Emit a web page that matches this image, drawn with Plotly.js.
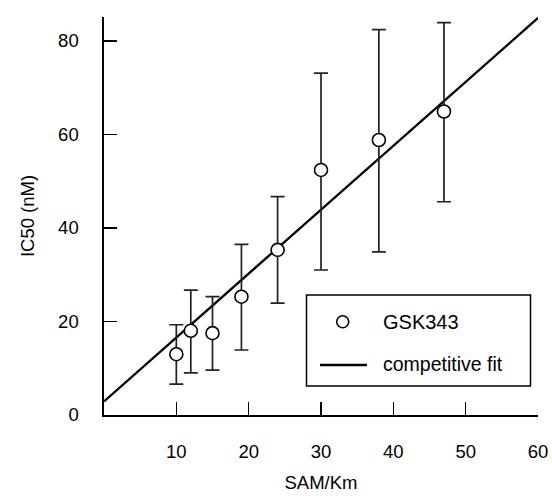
<!DOCTYPE html>
<html>
<head>
<meta charset="utf-8">
<script src="https://cdn.plot.ly/plotly-3.0.1.min.js"></script>
<style>html,body{margin:0;padding:0;background:#fff;}#chart{width:552px;height:496px;}</style>
</head>
<body>
<div id="chart"></div>
<script>
// Data
var samKm   = [10, 12, 15, 19, 24, 30, 38, 47];
var ic50    = [13.0, 18.0, 17.5, 25.3, 35.3, 52.4, 58.8, 64.9];
var ic50Hi  = [19.3, 26.7, 25.3, 36.5, 46.7, 73.1, 82.4, 83.9];
var ic50Lo  = [6.6, 9.0, 9.6, 13.9, 23.9, 31.0, 34.9, 45.6];
var fitX    = [0, 60];
var fitY    = [2.9, 84.9];
var xTickVals = [0, 10, 20, 30, 40, 50, 60];
var xTickText = ['', '10', '20', '30', '40', '50', '60'];
var yTickVals = [0, 20, 40, 60, 80];
var legendLabels = ['GSK343', 'competitive fit'];

var errPlus = ic50.map(function(v, i){ return ic50Hi[i] - v; });
var errMinus = ic50.map(function(v, i){ return v - ic50Lo[i]; });

var FONT = 'Liberation Sans, Arial, sans-serif';

// plot area in pixels: x 104..538, y 17..415
var L = 104, R = 538, T = 17, B = 415;
function px(x){ return (x - L) / (R - L); }
function py(y){ return (B - y) / (B - T); }

var traces = [
  {
    x: fitX, y: fitY, type: 'scatter', mode: 'lines',
    line: {color: '#000', width: 2.3},
    name: legendLabels[1], showlegend: false, hoverinfo: 'skip'
  },
  {
    x: samKm, y: ic50, type: 'scatter', mode: 'markers',
    marker: {symbol: 'circle', size: 13, color: '#fff', line: {color: '#000', width: 1.6}},
    error_y: {type: 'data', symmetric: false, array: errPlus, arrayminus: errMinus,
              color: '#222', thickness: 1.7, width: 7},
    name: legendLabels[0], showlegend: false
  }
];

var layout = {
  width: 552, height: 496,
  margin: {l: L, r: 552 - R, t: T, b: 496 - B, pad: 0},
  paper_bgcolor: '#fff', plot_bgcolor: '#fff',
  font: {family: FONT, color: '#000', size: 18},
  showlegend: false,
  xaxis: {
    range: [0, 60], tickvals: xTickVals, ticktext: xTickText,
    ticks: 'inside', ticklen: 13, tickwidth: 1.6, tickcolor: '#000',
    showline: true, linewidth: 1.6, linecolor: '#000',
    showgrid: false, zeroline: false, ticklabelstandoff: 19,
    tickfont: {family: FONT, size: 18.5, color: '#000'},
    title: {text: 'SAM/Km', font: {family: FONT, size: 18.5, color: '#000'}, standoff: 15}
  },
  yaxis: {
    range: [0, 85.1], tickvals: yTickVals,
    ticks: 'inside', ticklen: 13, tickwidth: 1.6, tickcolor: '#000',
    showline: true, linewidth: 1.6, linecolor: '#000',
    showgrid: false, zeroline: false, ticklabelstandoff: 20,
    tickfont: {family: FONT, size: 18.5, color: '#000'},
    title: {text: 'IC50 (nM)', font: {family: FONT, size: 18.5, color: '#000'}, standoff: 18}
  },
  shapes: [
    {type: 'rect', xref: 'paper', yref: 'paper',
     x0: px(306.5), x1: px(530.5), y0: py(386), y1: py(295),
     line: {color: '#000', width: 1.5}, fillcolor: '#fff', layer: 'above'},
    {type: 'circle', xref: 'paper', yref: 'paper',
     xsizemode: 'pixel', ysizemode: 'pixel', xanchor: px(342.7), yanchor: py(321.7),
     x0: -6, x1: 6, y0: -6, y1: 6,
     line: {color: '#000', width: 1.6}, fillcolor: '#fff', layer: 'above'},
    {type: 'line', xref: 'paper', yref: 'paper',
     x0: px(320), x1: px(367), y0: py(365), y1: py(365),
     line: {color: '#000', width: 2.3}, layer: 'above'}
  ],
  annotations: [
    {xref: 'paper', yref: 'paper', x: px(381), y: py(321.7), text: legendLabels[0],
     showarrow: false, xanchor: 'left', yanchor: 'middle',
     font: {family: FONT, size: 20, color: '#000'}},
    {xref: 'paper', yref: 'paper', x: px(381), y: py(364), text: legendLabels[1],
     showarrow: false, xanchor: 'left', yanchor: 'middle',
     font: {family: FONT, size: 19.5, color: '#000'}}
  ]
};

Plotly.newPlot('chart', traces, layout, {displayModeBar: false, staticPlot: true});
</script>
</body>
</html>
